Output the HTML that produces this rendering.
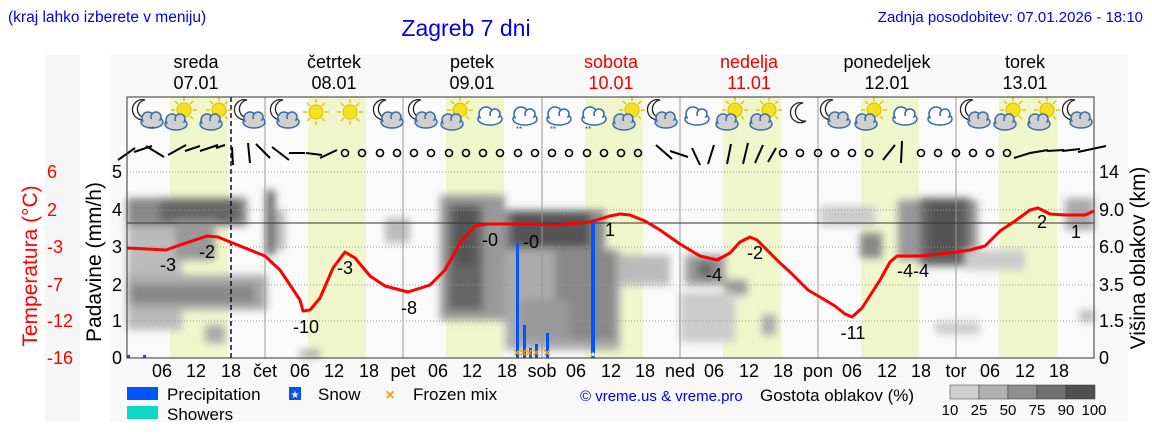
<!DOCTYPE html>
<html><head><meta charset="utf-8"><style>
html,body{margin:0;padding:0;background:#fff;}
svg{display:block;font-family:"Liberation Sans",sans-serif;}
</style></head><body>
<svg width="1152" height="443" viewBox="0 0 1152 443" xmlns="http://www.w3.org/2000/svg">
<defs>
<filter id="bl" x="-30%" y="-30%" width="160%" height="160%"><feGaussianBlur stdDeviation="4"/></filter>
<g id="cl"><ellipse cx="0" cy="4" rx="11" ry="6" fill="#d0d0d0" stroke="#3a6ea8" stroke-width="1.5"/><circle cx="-4" cy="0" r="6" fill="#d0d0d0" stroke="#3a6ea8" stroke-width="1.5"/><circle cx="4" cy="-1" r="5" fill="#d0d0d0" stroke="#3a6ea8" stroke-width="1.5"/><ellipse cx="0" cy="5" rx="9" ry="4" fill="#d0d0d0"/></g>
<g id="wc"><ellipse cx="0" cy="4" rx="12" ry="6" fill="#fff" stroke="#2d66b0" stroke-width="1.5"/><circle cx="-4" cy="-1" r="7" fill="#fff" stroke="#2d66b0" stroke-width="1.5"/><circle cx="5" cy="-1" r="5" fill="#fff" stroke="#2d66b0" stroke-width="1.5"/><ellipse cx="0" cy="5" rx="10" ry="4" fill="#fff"/></g>
<g id="sun"><circle r="7" fill="#f5e11e" stroke="#e0b800"/><g stroke="#e6c400" stroke-width="1.5"><line x1="0" y1="-9" x2="0" y2="-13"/><line x1="0" y1="9" x2="0" y2="13"/><line x1="-9" y1="0" x2="-13" y2="0"/><line x1="9" y1="0" x2="13" y2="0"/><line x1="6" y1="6" x2="9" y2="9"/><line x1="-6" y1="-6" x2="-9" y2="-9"/><line x1="6" y1="-6" x2="9" y2="-9"/><line x1="-6" y1="6" x2="-9" y2="9"/></g></g>
<g id="moon"><path d="M3,-10 A10,10 0 1 0 6,8 A8,8 0 1 1 3,-10Z" fill="#fff" stroke="#222" stroke-width="1.3"/></g>
</defs>
<rect width="1152" height="443" fill="#fff"/>
<rect x="45" y="55" width="35" height="367" fill="#f6f6f6"/>
<rect x="110" y="55" width="1018" height="367" fill="#f8f8f8"/>
<!-- header -->
<text x="8" y="22" font-size="15.5" fill="#0000ee">(kraj lahko izberete v meniju)</text>
<text x="466" y="36" font-size="23" fill="#0000ee" text-anchor="middle">Zagreb 7 dni</text>
<text x="1143" y="22" font-size="15" fill="#0000ee" text-anchor="end">Zadnja posodobitev: 07.01.2026 - 18:10</text>
<g font-size="18" text-anchor="middle">
<text x="196" y="68">sreda</text><text x="196" y="89">07.01</text>
<text x="334" y="68">četrtek</text><text x="334" y="89">08.01</text>
<text x="472" y="68">petek</text><text x="472" y="89">09.01</text>
<text x="611" y="68" fill="#e00">sobota</text><text x="611" y="89" fill="#e00">10.01</text>
<text x="749" y="68" fill="#e00">nedelja</text><text x="749" y="89" fill="#e00">11.01</text>
<text x="887" y="68">ponedeljek</text><text x="887" y="89">12.01</text>
<text x="1025" y="68">torek</text><text x="1025" y="89">13.01</text>
</g>
<!-- plot -->
<rect x="127" y="97" width="967" height="261" fill="#fafafa"/>
<g fill="#f0f6cc">
<rect x="170" y="97" width="58" height="261"/><rect x="308" y="97" width="58" height="261"/><rect x="446" y="97" width="58" height="261"/><rect x="585" y="97" width="58" height="261"/><rect x="723" y="97" width="58" height="261"/><rect x="861" y="97" width="58" height="261"/><rect x="999" y="97" width="58" height="261"/>
</g>
<!-- clouds -->
<g filter="url(#bl)">
<rect x="127" y="225" width="55" height="105" fill="#bbb"/>
<rect x="127" y="275" width="140" height="35" fill="#aaa"/>
<rect x="130" y="285" width="125" height="18" fill="#888"/>
<rect x="127" y="198" width="120" height="28" fill="#888"/>
<rect x="160" y="200" width="80" height="22" fill="#666"/>
<rect x="175" y="220" width="40" height="40" fill="#999"/>
<rect x="205" y="325" width="20" height="18" fill="#aaa"/>
<rect x="266" y="190" width="9" height="65" fill="#666"/>
<rect x="275" y="210" width="10" height="40" fill="#bbb"/>
<rect x="300" y="350" width="20" height="8" fill="#aaa"/>
<rect x="385" y="218" width="25" height="25" fill="#bbb"/>
<rect x="440" y="195" width="65" height="125" fill="#999"/>
<rect x="448" y="205" width="35" height="105" fill="#666"/>
<rect x="455" y="205" width="20" height="60" fill="#555"/>
<rect x="505" y="210" width="100" height="42" fill="#888"/>
<rect x="510" y="212" width="80" height="35" fill="#555"/>
<rect x="505" y="250" width="115" height="100" fill="#aaa"/>
<rect x="555" y="250" width="60" height="90" fill="#888"/>
<rect x="520" y="300" width="50" height="40" fill="#999"/>
<rect x="620" y="255" width="50" height="30" fill="#bbb"/>
<rect x="685" y="255" width="40" height="30" fill="#999"/>
<rect x="698" y="262" width="15" height="15" fill="#666"/>
<rect x="725" y="280" width="22" height="15" fill="#999"/>
<rect x="680" y="292" width="55" height="50" fill="#ccc"/>
<rect x="762" y="315" width="14" height="20" fill="#aaa"/>
<rect x="820" y="206" width="55" height="20" fill="#ccc"/>
<rect x="860" y="233" width="22" height="25" fill="#888"/>
<rect x="898" y="200" width="80" height="60" fill="#999"/>
<rect x="920" y="198" width="50" height="68" fill="#666"/>
<rect x="930" y="202" width="30" height="55" fill="#555"/>
<rect x="965" y="250" width="60" height="20" fill="#ccc"/>
<rect x="935" y="322" width="45" height="12" fill="#ccc"/>
<rect x="1065" y="198" width="29" height="32" fill="#aaa"/>
<rect x="1080" y="310" width="14" height="12" fill="#bbb"/>
</g>
<!-- grid -->
<g stroke="#999" stroke-dasharray="1,2" stroke-width="1">
<line x1="127" y1="172" x2="1094" y2="172"/><line x1="127" y1="210" x2="1094" y2="210"/><line x1="127" y1="247" x2="1094" y2="247"/><line x1="127" y1="285" x2="1094" y2="285"/><line x1="127" y1="321" x2="1094" y2="321"/>
</g>
<g stroke="#999" stroke-width="1">
<line x1="265" y1="97" x2="265" y2="358"/><line x1="403" y1="97" x2="403" y2="358"/><line x1="542" y1="97" x2="542" y2="358"/><line x1="680" y1="97" x2="680" y2="358"/><line x1="818" y1="97" x2="818" y2="358"/><line x1="956" y1="97" x2="956" y2="358"/>
</g>
<line x1="127" y1="223" x2="1094" y2="223" stroke="#333" stroke-width="1"/>
<line x1="231" y1="97" x2="231" y2="358" stroke="#111" stroke-width="1.5" stroke-dasharray="5,3"/>
<!-- icons -->
<g>
<use href="#moon" x="142" y="110"/><use href="#cl" x="152" y="118"/><text x="148" y="132" font-size="8" fill="#456">**</text>
<use href="#sun" x="184" y="110"/><use href="#cl" x="176" y="120"/>
<use href="#sun" x="219" y="110"/><use href="#cl" x="211" y="120"/>
<use href="#moon" x="244" y="110"/><use href="#cl" x="254" y="118"/>
<use href="#moon" x="280" y="110"/><use href="#cl" x="288" y="118"/>
<use href="#sun" x="316" y="112"/>
<use href="#sun" x="350" y="112"/>
<use href="#moon" x="383" y="110"/><use href="#cl" x="392" y="118"/>
<use href="#moon" x="418" y="110"/><use href="#cl" x="426" y="118"/>
<use href="#sun" x="460" y="110"/><use href="#cl" x="452" y="120"/>
<use href="#wc" x="490" y="115"/>
<use href="#wc" x="525" y="115"/><text x="516" y="132" font-size="8" fill="#456">**</text>
<use href="#wc" x="559" y="115"/><text x="550" y="132" font-size="8" fill="#456">**</text>
<use href="#wc" x="594" y="115"/><text x="585" y="132" font-size="8" fill="#456">**</text>
<use href="#sun" x="632" y="110"/><use href="#cl" x="624" y="120"/>
<use href="#moon" x="657" y="110"/><use href="#cl" x="666" y="118"/>
<use href="#wc" x="697" y="115"/>
<use href="#sun" x="735" y="110"/><use href="#cl" x="727" y="120"/>
<use href="#sun" x="769" y="110"/><use href="#cl" x="761" y="120"/>
<use href="#moon" x="800" y="113"/>
<use href="#moon" x="830" y="110"/><use href="#cl" x="839" y="118"/>
<use href="#sun" x="874" y="110"/><use href="#cl" x="866" y="120"/>
<use href="#wc" x="905" y="115"/>
<use href="#wc" x="940" y="115"/>
<use href="#moon" x="970" y="110"/><use href="#cl" x="979" y="118"/>
<use href="#sun" x="1013" y="110"/><use href="#cl" x="1005" y="120"/>
<use href="#sun" x="1047" y="110"/><use href="#cl" x="1039" y="120"/>
<use href="#moon" x="1072" y="110"/><use href="#cl" x="1081" y="118"/>
</g>
<!-- wind -->
<g stroke="#000" stroke-width="2" fill="none">
<path d="M118,160 L135,148 M134,152 L152,146 M146,146 L164,157 M168,155 L186,145 M185,151 L200,146 M200,151 L218,145 M216,148 L225,145 M232,147 L233,165 M248,143 L250,163 M256,144 L270,158 M272,147 L289,160 M289,153 L305,153 M306,153 L322,155 M320,158 L337,150"/>
<path d="M656,145 L672,159 M670,151 L688,157 M692,148 L700,165 M714,145 L708,164 M731,144 L727,164 M748,143 L743,164 M763,145 L755,163 M776,148 L768,162 M883,160 L895,145 M902,141 L901,163 M1014,158 L1030,153 M1030,153 L1048,150 M1047,151 L1064,150 M1062,151 L1080,149 M1078,152 L1106,146"/>
</g>
<g stroke="#000" stroke-width="1.6" fill="none">
<circle cx="345" cy="153" r="3.5"/><circle cx="362" cy="153" r="3.5"/><circle cx="380" cy="153" r="3.5"/><circle cx="397" cy="153" r="3.5"/><circle cx="414" cy="153" r="3.5"/><circle cx="431" cy="153" r="3.5"/><circle cx="449" cy="153" r="3.5"/><circle cx="466" cy="153" r="3.5"/><circle cx="483" cy="153" r="3.5"/><circle cx="500" cy="153" r="3.5"/><circle cx="518" cy="153" r="3.5"/><circle cx="535" cy="153" r="3.5"/><circle cx="552" cy="153" r="3.5"/><circle cx="569" cy="153" r="3.5"/><circle cx="587" cy="153" r="3.5"/><circle cx="604" cy="153" r="3.5"/><circle cx="621" cy="153" r="3.5"/><circle cx="638" cy="153" r="3.5"/>
<circle cx="783" cy="153" r="3.5"/><circle cx="800" cy="153" r="3.5"/><circle cx="818" cy="153" r="3.5"/><circle cx="835" cy="153" r="3.5"/><circle cx="852" cy="153" r="3.5"/><circle cx="869" cy="153" r="3.5"/>
<circle cx="921" cy="153" r="3.5"/><circle cx="938" cy="153" r="3.5"/><circle cx="956" cy="153" r="3.5"/><circle cx="973" cy="153" r="3.5"/><circle cx="990" cy="153" r="3.5"/><circle cx="1007" cy="153" r="3.5"/>
</g>
<!-- precip -->
<g fill="#0055ff">
<rect x="516" y="243" width="3" height="115"/><rect x="523" y="325" width="3" height="33"/><rect x="529" y="348" width="3" height="10"/><rect x="535" y="344" width="3" height="14"/><rect x="546" y="333" width="3" height="25"/><rect x="591" y="222" width="4" height="136"/>
<rect x="127" y="355" width="3" height="3"/><rect x="143" y="355" width="3" height="3"/>
</g>
<g fill="#f5a000" font-size="13" font-weight="bold" text-anchor="middle"><text x="517" y="357">×</text><text x="523" y="357">×</text><text x="529" y="357">×</text><text x="536" y="357">×</text><text x="547" y="357">×</text></g>
<text x="593" y="357" font-size="8" fill="#fff" text-anchor="middle">★</text>
<!-- temperature -->
<path d="M127,248 L166,250 L180,245 L207,236 L218,237 L240,246 L265,256 L280,270 L300,300 L303,311 L310,310 L320,298 L333,268 L345,252 L355,258 L370,276 L385,286 L408,292 L430,285 L445,270 L460,243 L475,226 L487,224 L530,224 L555,225 L590,222 L610,216 L620,214 L630,215 L645,221 L660,230 L680,244 L700,256 L717,260 L730,253 L740,242 L750,237 L757,240 L767,250 L780,263 L790,272 L808,290 L825,300 L835,306 L845,314 L852,317 L862,308 L880,280 L890,262 L897,256 L920,256 L950,253 L970,250 L985,246 L1000,231 L1015,221 L1030,210 L1038,208 L1050,214 L1065,215 L1085,215 L1094,211" fill="none" stroke="#ff0000" stroke-width="3" stroke-linejoin="round"/>
<g font-size="18" text-anchor="middle">
<text x="168" y="271">-3</text><text x="207" y="258">-2</text><text x="306" y="333">-10</text><text x="345" y="274">-3</text><text x="409" y="314">-8</text><text x="490" y="246">-0</text><text x="531" y="248">-0</text><text x="610" y="236">1</text><text x="714" y="281">-4</text><text x="755" y="259">-2</text><text x="853" y="339">-11</text><text x="913" y="277">-4-4</text><text x="1042" y="228">2</text><text x="1076" y="238">1</text>
</g>
<rect x="127" y="97" width="967" height="261" fill="none" stroke="#333" stroke-width="1"/>
<!-- axes -->
<g font-size="18" text-anchor="end">
<text x="122" y="178">5</text><text x="122" y="216">4</text><text x="122" y="253">3</text><text x="122" y="291">2</text><text x="122" y="327">1</text><text x="122" y="364">0</text>
</g>
<g font-size="18" fill="#ff0000" text-anchor="middle">
<text x="52" y="178">6</text><text x="52" y="216">2</text><text x="55" y="253">-3</text><text x="55" y="291">-7</text><text x="60" y="327">-12</text><text x="60" y="364">-16</text>
</g>
<g font-size="18">
<text x="1099" y="178">14</text><text x="1099" y="216">9.0</text><text x="1099" y="253">6.0</text><text x="1099" y="291">3.5</text><text x="1099" y="327">1.5</text><text x="1099" y="364">0</text>
</g>
<text transform="translate(37,266) rotate(-90)" font-size="21" fill="#ff0000" text-anchor="middle">Temperatura (°C)</text>
<text transform="translate(101,262) rotate(-90)" font-size="21" text-anchor="middle">Padavine (mm/h)</text>
<text transform="translate(1145,258) rotate(-90)" font-size="21" text-anchor="middle">Višina oblakov (km)</text>
<g font-size="18" text-anchor="middle">
<text x="162" y="377">06</text><text x="196" y="377">12</text><text x="231" y="377">18</text><text x="265" y="377">čet</text><text x="300" y="377">06</text><text x="334" y="377">12</text><text x="369" y="377">18</text><text x="403" y="377">pet</text><text x="438" y="377">06</text><text x="472" y="377">12</text><text x="507" y="377">18</text><text x="542" y="377">sob</text><text x="576" y="377">06</text><text x="611" y="377">12</text><text x="645" y="377">18</text><text x="680" y="377">ned</text><text x="714" y="377">06</text><text x="749" y="377">12</text><text x="783" y="377">18</text><text x="818" y="377">pon</text><text x="852" y="377">06</text><text x="887" y="377">12</text><text x="921" y="377">18</text><text x="956" y="377">tor</text><text x="990" y="377">06</text><text x="1025" y="377">12</text><text x="1059" y="377">18</text>
</g>
<!-- legend -->
<rect x="127" y="387" width="31" height="13" fill="#0055ff"/>
<text x="167" y="400" font-size="17">Precipitation</text>
<rect x="289" y="387" width="12" height="13" fill="#0055ff"/><text x="295" y="398" font-size="10" fill="#fff" text-anchor="middle">★</text>
<text x="318" y="400" font-size="17">Snow</text>
<text x="390" y="400" font-size="16" fill="#f5a000" font-weight="bold" text-anchor="middle">×</text>
<text x="413" y="400" font-size="17">Frozen mix</text>
<rect x="127" y="406" width="31" height="13" fill="#10d8c8"/>
<text x="167" y="420" font-size="17">Showers</text>
<text x="580" y="401" font-size="15" fill="#0000ee">© vreme.us &amp; vreme.pro</text>
<text x="760" y="401" font-size="17">Gostota oblakov (%)</text>
<g stroke="#333" stroke-width="0.5">
<rect x="950" y="385" width="29" height="14" fill="#d0d0d0"/><rect x="979" y="385" width="29" height="14" fill="#b0b0b0"/><rect x="1008" y="385" width="29" height="14" fill="#909090"/><rect x="1037" y="385" width="29" height="14" fill="#707070"/><rect x="1066" y="385" width="29" height="14" fill="#505050"/>
</g>
<g font-size="15" text-anchor="middle"><text x="950" y="415">10</text><text x="979" y="415">25</text><text x="1008" y="415">50</text><text x="1037" y="415">75</text><text x="1066" y="415">90</text><text x="1094" y="415">100</text></g>
</svg>
</body></html>
